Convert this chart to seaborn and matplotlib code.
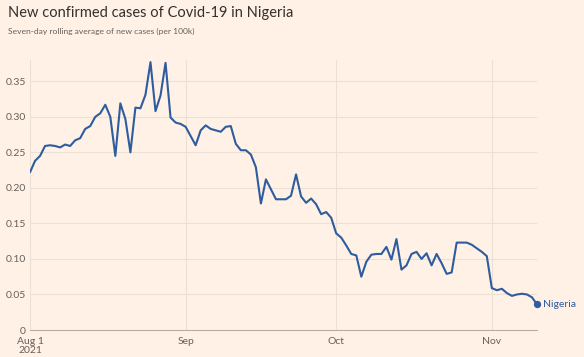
#####----- Seven-day rolling average of new Covid-19 cases in Nigeria (FT style)

#####----- IMPORTS
import numpy as np
import pandas as pd
import matplotlib
matplotlib.use("Agg")
import matplotlib.pyplot as plt
import matplotlib.dates as mdates
from matplotlib.ticker import FuncFormatter
import seaborn as sns

#####----- DATA
start_date = "2021-08-01"
cases_per_100k = [
    0.222, 0.238, 0.245, 0.259, 0.260, 0.259, 0.257, 0.261, 0.259, 0.267,
    0.270, 0.283, 0.287, 0.300, 0.305, 0.317, 0.300, 0.245, 0.319, 0.297,
    0.250, 0.313, 0.312, 0.331, 0.377, 0.308, 0.330, 0.376, 0.299, 0.292,
    0.290, 0.286, 0.273, 0.260, 0.281, 0.288, 0.283, 0.281, 0.279, 0.286,
    0.287, 0.262, 0.253, 0.253, 0.247, 0.229, 0.178, 0.212, 0.198, 0.184,
    0.184, 0.184, 0.189, 0.219, 0.188, 0.179, 0.185, 0.177, 0.163, 0.166,
    0.158, 0.136, 0.130, 0.119, 0.107, 0.105, 0.075, 0.096, 0.106, 0.107,
    0.107, 0.117, 0.099, 0.128, 0.085, 0.091, 0.107, 0.110, 0.100, 0.108,
    0.091, 0.107, 0.094, 0.079, 0.081, 0.123, 0.123, 0.123, 0.120, 0.115,
    0.110, 0.104, 0.059, 0.056, 0.058, 0.052, 0.048, 0.050, 0.051, 0.050,
    0.046, 0.036,
]
y_ticks = [0, 0.05, 0.10, 0.15, 0.20, 0.25, 0.30, 0.35]
month_ticks = ["2021-08-01", "2021-09-01", "2021-10-01", "2021-11-01"]
month_labels = ["Aug 1\n2021", "Sep", "Oct", "Nov"]
country = "Nigeria"

title = "New confirmed cases of Covid-19 in Nigeria"
subtitle = "Seven-day rolling average of new cases (per 100k)"

#####----- STYLE
bg = "#fff1e5"
line_col = "#2e5c9e"
text_col = "#66605c"
grid_col = "#ece0d5"

sns.set_style("white")
plt.rcParams['font.family'] = ['Lato', 'DejaVu Sans']

df = pd.DataFrame({
    "date": pd.date_range(start_date, periods=len(cases_per_100k), freq="D"),
    "cases": cases_per_100k,
})

#####----- PLOT
fig = plt.figure(figsize=(5.84, 3.57), dpi=100, facecolor=bg)
ax = fig.add_axes([30 / 584, 1 - 330 / 357, (537 - 30) / 584, (330 - 60) / 357])
ax.set_facecolor(bg)

sns.lineplot(data=df, x="date", y="cases", color=line_col, linewidth=1.5, ax=ax)

last = df.iloc[-1]
ax.scatter([last["date"]], [last["cases"]], color=line_col, s=18, zorder=5, clip_on=False)
ax.annotate(country, xy=(last["date"], last["cases"]), xytext=(4, 0),
            textcoords="offset points", va="center", ha="left",
            color=line_col, fontsize=7.5, annotation_clip=False)

ax.set_xlim(df["date"].iloc[0], df["date"].iloc[-1])
ax.set_ylim(0, 0.38)

ax.set_yticks(y_ticks)
ax.yaxis.set_major_formatter(FuncFormatter(lambda v, p: "0" if v == 0 else f"{v:.2f}"))
ax.set_xticks(pd.to_datetime(month_ticks))
ax.set_xticklabels(month_labels)

ax.grid(True, color=grid_col, linewidth=0.8)
ax.set_axisbelow(True)
for side in ["top", "right", "left"]:
    ax.spines[side].set_visible(False)
ax.spines["bottom"].set_color("#b8ada4")
ax.spines["bottom"].set_linewidth(0.8)
ax.tick_params(axis="y", length=0, colors=text_col, labelsize=7.5, pad=3)
ax.tick_params(axis="x", length=0, colors=text_col, labelsize=7.5, pad=5)
for lbl in ax.get_xticklabels():
    lbl.set_linespacing(1.05)
ax.set_xlabel("")
ax.set_ylabel("")

fig.text(8 / 584, 1 - 13 / 357, title, fontsize=10.5, color="#33302e", va="center", ha="left")
fig.text(8 / 584, 1 - 31 / 357, subtitle, fontsize=6.1, color=text_col, va="center", ha="left")

fig.savefig("out.png", dpi=100, facecolor=bg)
